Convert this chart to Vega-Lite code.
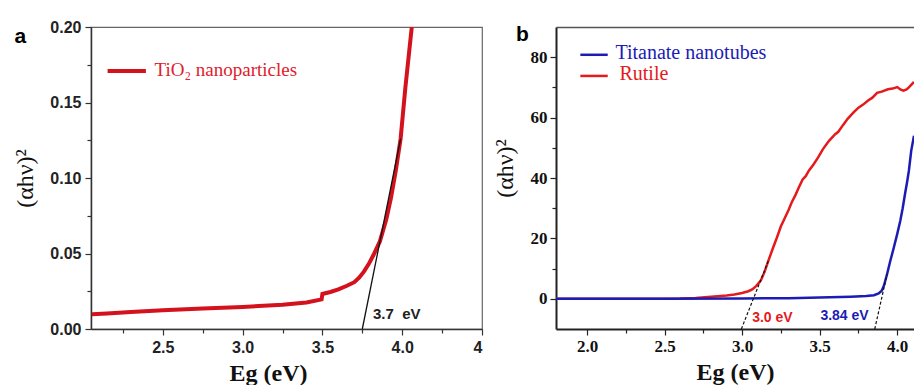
{
  "$schema": "https://vega.github.io/schema/vega-lite/v6.json",
  "autosize": {"type": "pad"},
  "padding": {"left": 13, "top": 18, "right": 0, "bottom": 0},
  "background": "white",
  "config": {"view": {"stroke": null}, "axis": {"grid": false}},
  "datasets": {
    "tio2": [
      {"eg": 2.055, "v": 0.0098}, {"eg": 2.15, "v": 0.0103}, {"eg": 2.3, "v": 0.0112}, {"eg": 2.5, "v": 0.0124},
      {"eg": 2.75, "v": 0.0135}, {"eg": 3.0, "v": 0.0146}, {"eg": 3.25, "v": 0.016}, {"eg": 3.4, "v": 0.0176},
      {"eg": 3.495, "v": 0.0196}, {"eg": 3.5, "v": 0.0232}, {"eg": 3.55, "v": 0.0245}, {"eg": 3.6, "v": 0.0262},
      {"eg": 3.65, "v": 0.0285}, {"eg": 3.7, "v": 0.031}, {"eg": 3.73, "v": 0.034}, {"eg": 3.76, "v": 0.038},
      {"eg": 3.79, "v": 0.043}, {"eg": 3.82, "v": 0.049}, {"eg": 3.86, "v": 0.058}, {"eg": 3.9, "v": 0.0725},
      {"eg": 3.93, "v": 0.087}, {"eg": 3.96, "v": 0.105}, {"eg": 3.99, "v": 0.126}, {"eg": 4.02, "v": 0.16},
      {"eg": 4.06, "v": 0.2}
    ],
    "bandgap": [
      {"s": "Rutile", "eg": 1.8, "v": 0}, {"s": "Rutile", "eg": 2.2, "v": 0}, {"s": "Rutile", "eg": 2.6, "v": 0.1},
      {"s": "Rutile", "eg": 2.7, "v": 0.3}, {"s": "Rutile", "eg": 2.8, "v": 0.7}, {"s": "Rutile", "eg": 2.9, "v": 1.1},
      {"s": "Rutile", "eg": 2.95, "v": 1.4}, {"s": "Rutile", "eg": 3.0, "v": 1.9}, {"s": "Rutile", "eg": 3.04, "v": 2.5},
      {"s": "Rutile", "eg": 3.065, "v": 3.1}, {"s": "Rutile", "eg": 3.09, "v": 4.2}, {"s": "Rutile", "eg": 3.12, "v": 6.0},
      {"s": "Rutile", "eg": 3.145, "v": 9.0}, {"s": "Rutile", "eg": 3.17, "v": 12.7}, {"s": "Rutile", "eg": 3.2, "v": 17.0},
      {"s": "Rutile", "eg": 3.225, "v": 20.4}, {"s": "Rutile", "eg": 3.25, "v": 24.0}, {"s": "Rutile", "eg": 3.27, "v": 26.2},
      {"s": "Rutile", "eg": 3.3, "v": 29.5}, {"s": "Rutile", "eg": 3.32, "v": 32.0}, {"s": "Rutile", "eg": 3.345, "v": 34.5},
      {"s": "Rutile", "eg": 3.366, "v": 36.9}, {"s": "Rutile", "eg": 3.39, "v": 39.5}, {"s": "Rutile", "eg": 3.41, "v": 40.6},
      {"s": "Rutile", "eg": 3.43, "v": 42.4}, {"s": "Rutile", "eg": 3.46, "v": 44.5}, {"s": "Rutile", "eg": 3.49, "v": 46.8},
      {"s": "Rutile", "eg": 3.52, "v": 49.5}, {"s": "Rutile", "eg": 3.56, "v": 52.3}, {"s": "Rutile", "eg": 3.6, "v": 54.5},
      {"s": "Rutile", "eg": 3.62, "v": 55.3}, {"s": "Rutile", "eg": 3.65, "v": 57.5}, {"s": "Rutile", "eg": 3.68, "v": 59.6},
      {"s": "Rutile", "eg": 3.72, "v": 61.8}, {"s": "Rutile", "eg": 3.75, "v": 63.3}, {"s": "Rutile", "eg": 3.78, "v": 64.3},
      {"s": "Rutile", "eg": 3.81, "v": 65.6}, {"s": "Rutile", "eg": 3.84, "v": 66.6}, {"s": "Rutile", "eg": 3.87, "v": 68.2},
      {"s": "Rutile", "eg": 3.9, "v": 68.6}, {"s": "Rutile", "eg": 3.94, "v": 69.4}, {"s": "Rutile", "eg": 3.97, "v": 69.6},
      {"s": "Rutile", "eg": 4.0, "v": 70.1}, {"s": "Rutile", "eg": 4.02, "v": 69.3}, {"s": "Rutile", "eg": 4.04, "v": 68.9},
      {"s": "Rutile", "eg": 4.06, "v": 69.3}, {"s": "Rutile", "eg": 4.075, "v": 70.0}, {"s": "Rutile", "eg": 4.09, "v": 70.8},
      {"s": "Rutile", "eg": 4.108, "v": 71.8},
      {"s": "Titanate", "eg": 1.8, "v": 0}, {"s": "Titanate", "eg": 2.5, "v": 0}, {"s": "Titanate", "eg": 3.0, "v": 0.1},
      {"s": "Titanate", "eg": 3.3, "v": 0.2}, {"s": "Titanate", "eg": 3.5, "v": 0.4}, {"s": "Titanate", "eg": 3.7, "v": 0.7},
      {"s": "Titanate", "eg": 3.8, "v": 0.9}, {"s": "Titanate", "eg": 3.85, "v": 1.2}, {"s": "Titanate", "eg": 3.88, "v": 1.8},
      {"s": "Titanate", "eg": 3.9, "v": 2.7}, {"s": "Titanate", "eg": 3.915, "v": 4.5}, {"s": "Titanate", "eg": 3.935, "v": 8.3},
      {"s": "Titanate", "eg": 3.955, "v": 12.5}, {"s": "Titanate", "eg": 3.978, "v": 17.0}, {"s": "Titanate", "eg": 4.0, "v": 21.5},
      {"s": "Titanate", "eg": 4.02, "v": 25.9}, {"s": "Titanate", "eg": 4.035, "v": 30.0}, {"s": "Titanate", "eg": 4.05, "v": 34.7},
      {"s": "Titanate", "eg": 4.063, "v": 38.5}, {"s": "Titanate", "eg": 4.075, "v": 42.4}, {"s": "Titanate", "eg": 4.09, "v": 49.0},
      {"s": "Titanate", "eg": 4.108, "v": 54.0}
    ]
  },
  "spacing": 74,
  "bounds": "flush",
  "resolve": {"scale": {"x": "independent", "y": "independent", "color": "independent"}},
  "hconcat": [
    {
      "width": 391,
      "height": 302,
      "view": {"stroke": "#666666", "strokeWidth": 1.2},
      "resolve": {"axis": {"x": "independent", "y": "independent"}},
      "layer": [
        {
          "data": {"name": "tio2"},
          "mark": {"type": "line", "color": "#d4121e", "strokeWidth": 4, "clip": true},
          "encoding": {
            "x": {"field": "eg", "type": "quantitative",
              "scale": {"domain": [2.05, 4.5], "nice": false, "zero": false},
              "axis": {"orient": "bottom", "values": [2.5, 3, 3.5, 4, 4.5], "format": ".1f",
                "labelExpr": "datum.value === 4.5 ? '4' : datum.label",
                "title": "Eg (eV)", "titleFont": "Liberation Serif", "titleFontSize": 24, "titleFontWeight": "bold",
                "titleColor": "#111111", "titlePadding": 6, "titleX": 177,
                "labelFont": "Liberation Sans", "labelFontSize": 16, "labelFontWeight": "bold", "labelColor": "#222222",
                "labelPadding": 4, "tickSize": 6, "tickColor": "#333333", "tickWidth": 1.2,
                "domainColor": "#333333", "domainWidth": 1.5}},
            "y": {"field": "v", "type": "quantitative",
              "scale": {"domain": [0, 0.2], "nice": false, "zero": false},
              "axis": {"orient": "left", "values": [0, 0.05, 0.1, 0.15, 0.2], "format": ".2f",
                "title": "(αhν)²", "titleFont": "Liberation Serif", "titleFontSize": 24, "titleFontWeight": "normal",
                "titleColor": "#111111", "titlePadding": 12,
                "labelFont": "Liberation Sans", "labelFontSize": 16, "labelFontWeight": "bold", "labelColor": "#222222",
                "labelPadding": 4, "tickSize": 6, "tickColor": "#333333", "tickWidth": 1.2,
                "domainColor": "#333333", "domainWidth": 1.5}}
          }
        },
        {
          "data": {"values": [{"eg": 3.75, "v": 0}, {"eg": 3.99, "v": 0.126}]},
          "mark": {"type": "line", "color": "#111111", "strokeWidth": 1.3},
          "encoding": {
            "x": {"field": "eg", "type": "quantitative",
              "axis": {"orient": "bottom", "values": [2.25, 2.75, 3.25, 3.75, 4.25], "labels": false, "domain": false,
                "title": null, "tickSize": 4, "tickColor": "#333333", "tickWidth": 1.2}},
            "y": {"field": "v", "type": "quantitative",
              "axis": {"orient": "left", "values": [0.025, 0.075, 0.125, 0.175], "labels": false, "domain": false,
                "title": null, "tickSize": 4, "tickColor": "#333333", "tickWidth": 1.2}}
          }
        },
        {
          "data": {"values": [{"eg": 2.154, "eg2": 2.394, "v": 0.1709}]},
          "mark": {"type": "rule", "color": "#d4121e", "strokeWidth": 4},
          "encoding": {
            "x": {"field": "eg", "type": "quantitative", "axis": null},
            "x2": {"field": "eg2"},
            "y": {"field": "v", "type": "quantitative", "axis": null}
          }
        },
        {
          "data": {"values": [{"eg": 2.448, "v": 0.1675, "t": "TiO₂ nanoparticles"}]},
          "mark": {"type": "text", "color": "#e0202c", "font": "Liberation Serif", "fontSize": 19, "align": "left", "baseline": "alphabetic"},
          "encoding": {
            "x": {"field": "eg", "type": "quantitative", "axis": null},
            "y": {"field": "v", "type": "quantitative", "axis": null},
            "text": {"field": "t"}
          }
        },
        {
          "data": {"values": [{"eg": 3.817, "v": 0.0064, "t": "3.7\u00a0 eV"}]},
          "mark": {"type": "text", "color": "#222222", "font": "Liberation Sans", "fontWeight": "bold", "fontSize": 15, "align": "left", "baseline": "alphabetic"},
          "encoding": {
            "x": {"field": "eg", "type": "quantitative", "axis": null},
            "y": {"field": "v", "type": "quantitative", "axis": null},
            "text": {"field": "t"}
          }
        },
        {
          "data": {"values": [{"eg": 1.6075, "v": 0.1896, "t": "a"}]},
          "mark": {"type": "text", "color": "#000000", "font": "Liberation Sans", "fontWeight": "bold", "fontSize": 21, "align": "center", "baseline": "alphabetic"},
          "encoding": {
            "x": {"field": "eg", "type": "quantitative", "axis": null},
            "y": {"field": "v", "type": "quantitative", "axis": null},
            "text": {"field": "t"}
          }
        }
      ]
    },
    {
      "width": 358,
      "height": 302,
      "view": {"stroke": null},
      "resolve": {"axis": {"x": "independent", "y": "independent"}},
      "layer": [
        {
          "data": {"name": "bandgap"},
          "mark": {"type": "line", "strokeWidth": 2.5, "clip": true},
          "encoding": {
            "x": {"field": "eg", "type": "quantitative",
              "scale": {"domain": [1.8, 4.108], "nice": false, "zero": false},
              "axis": {"orient": "bottom", "values": [2, 2.5, 3, 3.5, 4], "format": ".1f",
                "title": "Eg (eV)", "titleFont": "Liberation Serif", "titleFontSize": 24, "titleFontWeight": "bold",
                "titleColor": "#111111", "titlePadding": 6,
                "labelFont": "Liberation Serif", "labelFontSize": 17, "labelFontWeight": "bold", "labelColor": "#111111",
                "labelPadding": 3, "tickSize": 6, "tickColor": "#222222", "tickWidth": 1.2,
                "domainColor": "#222222", "domainWidth": 2}},
            "y": {"field": "v", "type": "quantitative",
              "scale": {"domain": [-10, 90], "nice": false, "zero": false},
              "axis": {"orient": "left", "values": [0, 20, 40, 60, 80], "format": "d",
                "title": "(αhν)²", "titleFont": "Liberation Serif", "titleFontSize": 24, "titleFontWeight": "normal",
                "titleColor": "#111111", "titlePadding": 13, "titleY": 141,
                "labelFont": "Liberation Serif", "labelFontSize": 17, "labelFontWeight": "bold", "labelColor": "#111111",
                "labelPadding": 3, "tickSize": 6, "tickColor": "#222222", "tickWidth": 1.2,
                "domainColor": "#222222", "domainWidth": 2}},
            "color": {"field": "s", "type": "nominal",
              "scale": {"domain": ["Rutile", "Titanate"], "range": ["#e41a1c", "#1c1cb4"]}, "legend": null}
          }
        },
        {
          "data": {"values": [
            {"s": "Rutile", "eg": 2.995, "v": -10}, {"s": "Rutile", "eg": 3.17, "v": 12.7},
            {"s": "Titanate", "eg": 3.855, "v": -10}, {"s": "Titanate", "eg": 3.935, "v": 8.3}
          ]},
          "mark": {"type": "line", "color": "#111111", "strokeWidth": 1.2, "strokeDash": [3, 2]},
          "encoding": {
            "x": {"field": "eg", "type": "quantitative",
              "axis": {"orient": "bottom", "values": [2.25, 2.75, 3.25, 3.75], "labels": false, "domain": false,
                "title": null, "tickSize": 4, "tickColor": "#222222", "tickWidth": 1.2}},
            "y": {"field": "v", "type": "quantitative",
              "axis": {"orient": "left", "values": [10, 30, 50, 70], "labels": false, "domain": false,
                "title": null, "tickSize": 4, "tickColor": "#222222", "tickWidth": 1.2}},
            "detail": {"field": "s", "type": "nominal"}
          }
        },
        {
          "data": {"values": [
            {"s": "Titanate", "eg": 1.957, "eg2": 2.1335, "v": 80.8},
            {"s": "Rutile", "eg": 1.957, "eg2": 2.1335, "v": 73.8}
          ]},
          "mark": {"type": "rule", "strokeWidth": 2.5},
          "encoding": {
            "x": {"field": "eg", "type": "quantitative",
              "axis": {"orient": "top", "labels": false, "ticks": false, "domain": true, "title": null,
                "domainColor": "#555555", "domainWidth": 1.5}},
            "x2": {"field": "eg2"},
            "y": {"field": "v", "type": "quantitative", "axis": null},
            "color": {"field": "s", "type": "nominal", "legend": null}
          }
        },
        {
          "data": {"values": [
            {"s": "Titanate", "eg": 2.183, "v": 79.3, "t": "Titanate nanotubes"},
            {"s": "Rutile", "eg": 2.209, "v": 72.3, "t": "Rutile"}
          ]},
          "mark": {"type": "text", "font": "Liberation Serif", "fontSize": 20, "align": "left", "baseline": "alphabetic"},
          "encoding": {
            "x": {"field": "eg", "type": "quantitative", "axis": null},
            "y": {"field": "v", "type": "quantitative", "axis": null},
            "text": {"field": "t"},
            "color": {"field": "s", "type": "nominal", "legend": null}
          }
        },
        {
          "data": {"values": [
            {"s": "Rutile", "eg": 3.0645, "v": -7.74, "t": "3.0 eV"},
            {"s": "Titanate", "eg": 3.5045, "v": -6.94, "t": "3.84 eV"}
          ]},
          "mark": {"type": "text", "font": "Liberation Sans", "fontWeight": "bold", "fontSize": 14, "align": "left", "baseline": "alphabetic"},
          "encoding": {
            "x": {"field": "eg", "type": "quantitative", "axis": null},
            "y": {"field": "v", "type": "quantitative", "axis": null},
            "text": {"field": "t"},
            "color": {"field": "s", "type": "nominal", "legend": null}
          }
        },
        {
          "data": {"values": [{"eg": 1.583, "v": 85.2, "t": "b"}]},
          "mark": {"type": "text", "color": "#000000", "font": "Liberation Sans", "fontWeight": "bold", "fontSize": 21, "align": "center", "baseline": "alphabetic"},
          "encoding": {
            "x": {"field": "eg", "type": "quantitative", "axis": null},
            "y": {"field": "v", "type": "quantitative", "axis": null},
            "text": {"field": "t"}
          }
        }
      ]
    }
  ]
}
